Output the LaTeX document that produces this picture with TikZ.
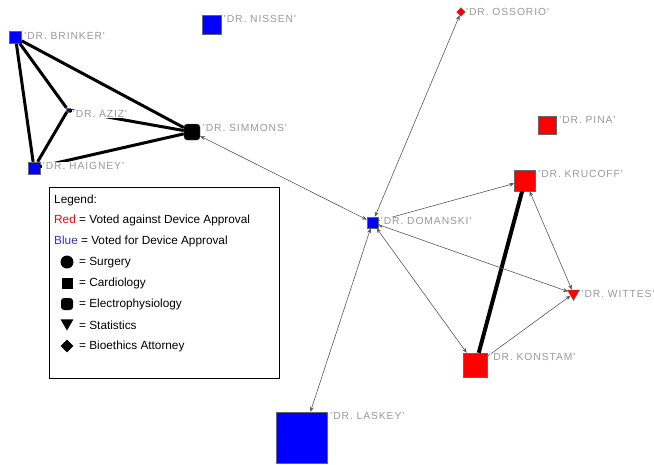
\documentclass[tikz,border=0pt]{standalone}
\usepackage{fontspec}
\setmainfont{Liberation Sans}
\newfontfamily\drfont[LetterSpace=9]{Liberation Sans}
\usetikzlibrary{shapes,arrows.meta,positioning}
\definecolor{voteblue}{RGB}{0,0,255}
\definecolor{votered}{RGB}{255,0,0}
\definecolor{legblue}{RGB}{51,51,204}

\begin{document}
\begin{tikzpicture}[x=1pt, y=-1pt, >={Stealth[length=5pt,width=4pt]},
  doc/.style={draw=black!60, line width=0.4pt, inner sep=0pt, minimum size=#1},
  pro/.style={doc=#1, fill=voteblue},
  con/.style={doc=#1, fill=votered},
  dr/.style={font=\drfont\fontsize{10.3}{10}\selectfont, text=black!40, fill=white, inner sep=0.5pt, anchor=north west},
  tie/.style={line width=3pt},
  link/.style={<->, line width=0.6pt, draw=black!65},
  legtext/.style={anchor=west, inner sep=0pt, font=\fontsize{11.8}{12}\selectfont},
  sym/.style={fill=black, inner sep=0pt}
]
  \useasboundingbox (0,0) rectangle (654,464);

  % panel members
  \node[pro=12pt] (brinker) at (15.5,37.5) {};
  \node[pro=19pt] (nissen) at (211.5,24.5) {};
  \node[pro=4pt] (aziz) at (68,110) {};
  \node[doc=16pt, fill=black, rounded corners=3pt] (simmons) at (192,132) {};
  \node[pro=12pt] (haigney) at (34,168) {};
  \node[con=9pt, diamond] (ossorio) at (461,12) {};
  \node[con=18pt] (pina) at (547.5,125) {};
  \node[pro=11pt] (domanski) at (372.5,222.5) {};
  \node[con=21pt] (krucoff) at (525,180.5) {};
  \node[con=14pt, regular polygon, regular polygon sides=3, shape border rotate=180] (wittes) at (573.5,293.5) {};
  \node[con=24pt] (konstam) at (475.5,365) {};
  \node[pro=51pt] (laskey) at (302,437.5) {};

  % strong ties
  \draw[tie] (brinker) -- (aziz);
  \draw[tie] (brinker) -- (haigney);
  \draw[tie] (brinker) -- (simmons);
  \draw[tie] (aziz) -- (haigney);
  \draw[tie] (aziz) -- (simmons);
  \draw[tie] (haigney) -- (simmons);
  \draw[tie, line width=4pt] (konstam) -- (krucoff);

  % directed links
  \draw[link] (simmons) -- (domanski);
  \draw[link] (domanski) -- (ossorio);
  \draw[link] (domanski) -- (laskey);
  \draw[link, ->] (domanski) -- (krucoff);
  \draw[link] (domanski) -- (wittes);
  \draw[link] (domanski) -- (konstam);
  \draw[link] (krucoff) -- (wittes);
  \draw[link, ->] (konstam) -- (wittes);

  % names
  \node[dr] (lbrinker) at ([xshift=2pt]brinker.north east) {'DR. BRINKER'};
  \node[dr] (lnissen) at ([xshift=2pt]nissen.north east) {'DR. NISSEN'};
  \node[dr] (laziz) at ([xshift=2pt,yshift=-2pt]aziz.north east) {'DR. AZIZ'};
  \node[dr] (lsimmons) at ([xshift=2pt]simmons.north east) {'DR. SIMMONS'};
  \node[dr] (lhaigney) at ([xshift=2pt]haigney.north east) {'DR. HAIGNEY'};
  \node[dr] (lossorio) at (465.5,7.5) {'DR. OSSORIO'};
  \node[dr] (lpina) at ([xshift=2pt]pina.north east) {'DR. PINA'};
  \node[dr] (ldomanski) at ([xshift=2pt]domanski.north east) {'DR. DOMANSKI'};
  \node[dr] (lkrucoff) at ([xshift=2pt]krucoff.north east) {'DR. KRUCOFF'};
  \node[dr] (lwittes) at (581,289.5) {'DR. WITTES'};
  \node[dr] (lkonstam) at ([xshift=2pt]konstam.north east) {'DR. KONSTAM'};
  \node[dr] (llaskey) at ([xshift=2pt]laskey.north east) {'DR. LASKEY'};

  % legend
  \node[draw, line width=0.8pt, inner sep=0pt, minimum width=230pt, minimum height=191pt, anchor=north west] (legend) at (49,187) {};
  \node[legtext] (legtitle) at (54,200) {Legend:};
  \node[legtext] (legred) at (54,220.5) {\textcolor{votered}{Red} = Voted against Device Approval};
  \node[legtext] (legblue) at (54,241.5) {\textcolor{legblue}{Blue} = Voted for Device Approval};
  \node[sym, circle, minimum size=13pt] (symsurg) at (67,262) {};
  \node[legtext] (legsurg) at (79,262.5) {= Surgery};
  \node[sym, minimum size=11pt] (symcard) at (67,283) {};
  \node[sym, minimum size=12pt, rounded corners=3pt] (symelec) at (67,304) {};
  \node[legtext] (legcard) at (79,283.5) {= Cardiology};
  \node[legtext] (legelec) at (79,304.5) {= Electrophysiology};
  \node[sym, regular polygon, regular polygon sides=3, shape border rotate=180, minimum size=15pt] (symstat) at (67,323) {};
  \node[legtext] (legstat) at (79,325.5) {= Statistics};
  \node[sym, diamond, minimum size=13pt] (symbio) at (67,346) {};
  \node[legtext] (legbio) at (79,346.5) {= Bioethics Attorney};
\end{tikzpicture}
\end{document}
